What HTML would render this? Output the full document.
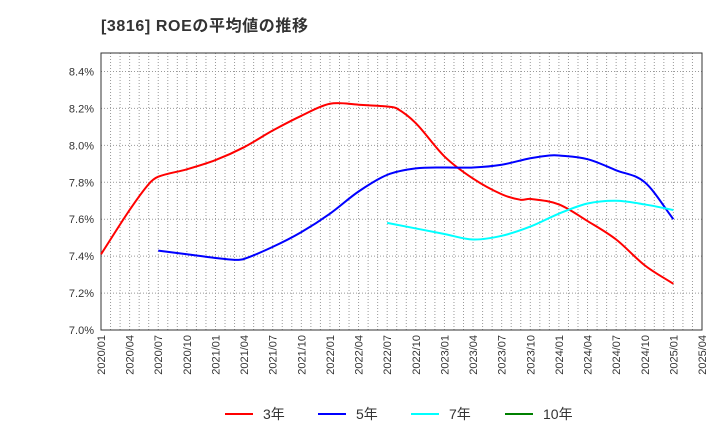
<!DOCTYPE html>
<html><head><meta charset="utf-8"><style>
body{margin:0;background:#fff;font-family:"Liberation Sans","Noto Sans CJK JP",sans-serif}
</style></head><body>
<svg width="720" height="440" xmlns="http://www.w3.org/2000/svg">
<text x="101" y="31" font-size="16" font-weight="bold" fill="#333" letter-spacing="0.6" font-family="Liberation Sans, Noto Sans CJK JP, sans-serif">[3816]  ROEの平均値の推移</text>
<g id="grid"></g>
<rect x="101" y="53" width="601" height="277" fill="none" stroke="#333" stroke-width="1"/>
<g id="yticks"></g>
<g id="xticks"></g>
<g id="series"></g>
<g id="legend"></g>
</svg>
<script>
const yTicks=[7.0,7.2,7.4,7.6,7.8,8.0,8.2,8.4];
const xLabels=["2020/01","2020/04","2020/07","2020/10","2021/01","2021/04","2021/07","2021/10","2022/01","2022/04","2022/07","2022/10","2023/01","2023/04","2023/07","2023/10","2024/01","2024/04","2024/07","2024/10","2025/01","2025/04"];
const m3=[0,3,5,6,9,12,15,18,21,24,27,30,31,33,36,39,42,44,45,48,51,54,57,60];
const v3=[7.41,7.65,7.79,7.83,7.87,7.92,7.99,8.08,8.16,8.225,8.22,8.21,8.20,8.12,7.94,7.82,7.735,7.705,7.71,7.68,7.59,7.49,7.35,7.25];
const m5=[6,9,12,14,15,18,21,24,27,30,33,36,39,42,45,47,48,51,54,57,60];
const v5=[7.43,7.41,7.39,7.38,7.385,7.45,7.53,7.63,7.75,7.84,7.875,7.88,7.88,7.895,7.93,7.945,7.945,7.925,7.865,7.8,7.6];
const m7=[30,33,36,39,42,45,48,51,54,57,60];
const v7=[7.58,7.55,7.52,7.49,7.51,7.56,7.63,7.685,7.70,7.68,7.65];
const NS="http://www.w3.org/2000/svg";
const X=m=>101+m*601/63, Y=v=>330-(v-7)/1.5*277;
function mk(t,a,p){const e=document.createElementNS(NS,t);for(const k in a)e.setAttribute(k,a[k]);p.appendChild(e);return e;}
const grid=document.getElementById('grid');
for(let m=1;m<63;m++){const l=mk('line',{x1:X(m),x2:X(m),y1:53,y2:330,stroke:'#999','stroke-dasharray':'1,2','stroke-width':1},grid);

}
const yt=document.getElementById('yticks');
yTicks.forEach(v=>{const l=mk('line',{x1:101,x2:702,y1:Y(v),y2:Y(v),stroke:'#999','stroke-dasharray':'1,2'},grid);


const t=mk('text',{x:94,y:Y(v)+4,'text-anchor':'end','font-size':11,fill:'#333'},yt);t.textContent=v.toFixed(1)+'%';

});
const xt=document.getElementById('xticks');
xLabels.forEach((s,i)=>{const x=X(i*3);const t=mk('text',{x:x+4,y:335,'text-anchor':'end','font-size':11,fill:'#333',transform:`rotate(-90 ${x+4} 335)`},xt);t.textContent=s;

});
function path(ms,vs){const p=ms.map((m,i)=>[X(m),Y(vs[i])]);const n=p.length;
const sl=p.map((q,i)=>{const a=p[Math.max(0,i-1)],b=p[Math.min(n-1,i+1)];return (b[1]-a[1])/(b[0]-a[0]);});
let d=`M${p[0][0]},${p[0][1]}`;
for(let i=0;i<n-1;i++){const a=p[i],b=p[i+1],dx=(b[0]-a[0])/3;
d+=` C${a[0]+dx},${a[1]+sl[i]*dx} ${b[0]-dx},${b[1]-sl[i+1]*dx} ${b[0]},${b[1]}`;}return d;}
const sg=document.getElementById('series');
[[m3,v3,'#ff0000','line-3y'],[m5,v5,'#0000ff','line-5y'],[m7,v7,'#00ffff','line-7y']].forEach(s=>{
const e=mk('path',{d:path(s[0],s[1]),fill:'none',stroke:s[2],'stroke-width':2},sg);

});
const lg=document.getElementById('legend');
[['3年','#ff0000',225],['5年','#0000ff',318],['7年','#00ffff',411],['10年','#008000',505]].forEach(L=>{
const l=mk('line',{x1:L[2],x2:L[2]+28,y1:414,y2:414,stroke:L[1],'stroke-width':2},lg);


const t=mk('text',{x:L[2]+38,y:419,'font-size':14,fill:'#333'},lg);t.textContent=L[0];

});
</script>
</body></html>
